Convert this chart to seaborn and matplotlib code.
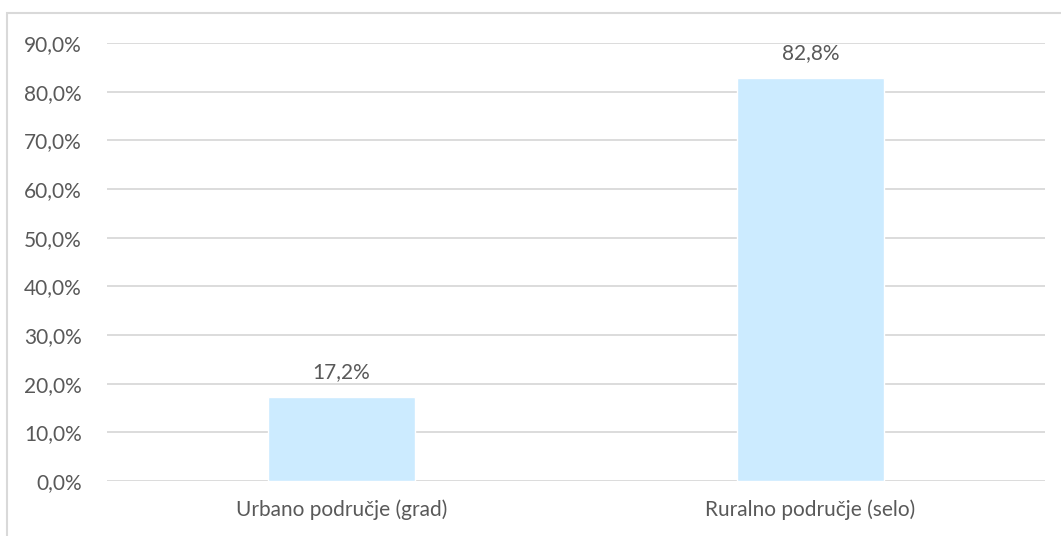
import matplotlib.pyplot as plt
import matplotlib.patches as mpatches
import seaborn as sns
import pandas as pd

# data
categories = ["Urbano područje (grad)", "Ruralno područje (selo)"]
values = [17.2, 82.8]
y_ticks = [0, 10, 20, 30, 40, 50, 60, 70, 80, 90]

df = pd.DataFrame({"Područje": categories, "Udio": values})

sns.set_theme(style="white")
plt.rcParams["font.family"] = ["Lato", "DejaVu Sans"]

text_color = "#595959"
grid_color = "#D9D9D9"
bar_color = "#CCEBFF"

fig = plt.figure(figsize=(10.61, 5.36), dpi=100)
ax = fig.add_axes([107 / 1061, 1 - 481 / 536, (1045 - 107) / 1061, (481 - 43) / 536])

sns.barplot(data=df, x="Područje", y="Udio", color=bar_color, width=0.313,
            saturation=1, ax=ax, zorder=3)

ax.set_ylim(0, 90)
ax.set_xlim(-0.5, 1.5)
ax.set_yticks(y_ticks)
ax.set_yticklabels([f"{t:.1f}%".replace(".", ",") for t in y_ticks])
ax.yaxis.grid(True, color=grid_color, linewidth=1.3, zorder=0)
ax.set_axisbelow(True)
for s in ax.spines.values():
    s.set_visible(False)
ax.set_xlabel("")
ax.set_ylabel("")
ax.tick_params(axis="both", length=0, labelsize=15, colors=text_color)
ax.tick_params(axis="y", pad=18)
ax.tick_params(axis="x", pad=13)

for i, v in enumerate(values):
    ax.annotate(f"{v:.1f}%".replace(".", ","), (i, v), xytext=(0, 11),
                textcoords="offset points", ha="center", va="bottom",
                fontsize=15, color=text_color)

# light frame around the chart area (only left and top visible)
fig.patches.append(mpatches.Rectangle((7 / 1061, -0.1), 1.2, 1 - 13 / 536 + 0.1,
                                      transform=fig.transFigure, fill=False,
                                      edgecolor=grid_color, linewidth=1.5))

fig.savefig("out.png", dpi=100)
